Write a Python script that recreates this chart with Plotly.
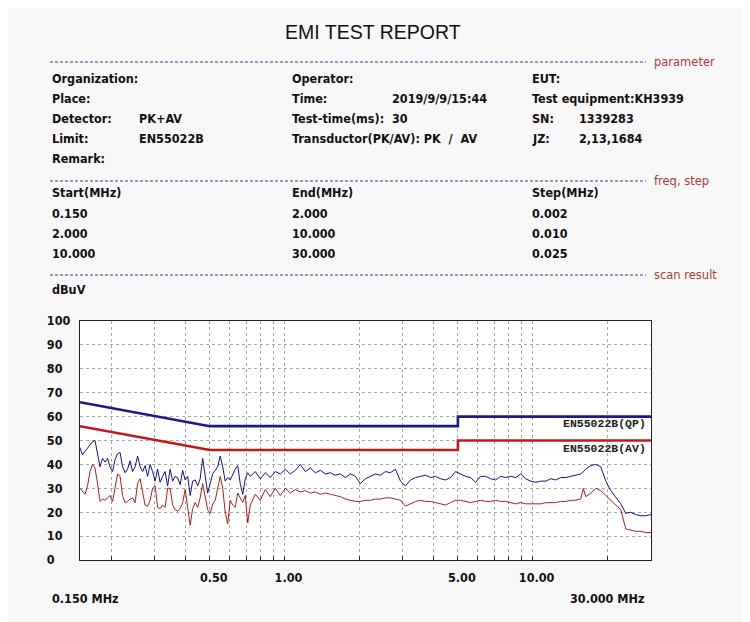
import math
import plotly.graph_objects as go

# ---- scan data ----
FREQ_MHZ = [
    0.15000, 0.15353, 0.15713, 0.16083, 0.16461, 0.16848, 0.17243, 0.17649,
    0.18063, 0.18488, 0.18922, 0.19367, 0.19822, 0.20288, 0.20765, 0.21253,
    0.21752, 0.22264, 0.22787, 0.23323, 0.23870, 0.24431, 0.25006, 0.25594,
    0.26195, 0.26811, 0.27441, 0.28086, 0.28746, 0.29422, 0.30113, 0.30821,
    0.31545, 0.32287, 0.33046, 0.33823, 0.34617, 0.35431, 0.36264, 0.37117,
    0.37988, 0.38881, 0.39795, 0.40731, 0.41688, 0.42668, 0.43670, 0.44697,
    0.45747, 0.46823, 0.47923, 0.49050, 0.50202, 0.51383, 0.52590, 0.53827,
    0.55091, 0.56387, 0.57711, 0.59068, 0.60456, 0.61878, 0.63331, 0.64820,
    0.66343, 0.67903, 0.69498, 0.71132, 0.72804,
    0.76266, 0.79893, 0.83693, 0.87673, 0.91843, 0.96211, 1.00787, 1.05580, 1.10602, 1.15862,
    1.21373, 1.27145, 1.33192, 1.39527, 1.46163, 1.53115, 1.60398, 1.68026, 1.76018, 1.84390,
    1.93159, 2.02346, 2.11970, 2.22052, 2.32613, 2.43676, 2.55266, 2.67407, 2.80125, 2.93448,
    3.07405, 3.22025, 3.37341, 3.53385, 3.70193, 3.87800, 4.06244, 4.25566, 4.45806, 4.67009,
    4.89221, 5.12489, 5.36864, 5.62398, 5.89147, 6.17168, 6.46521, 6.77271, 7.09483, 7.43227,
    7.78576, 8.15606, 8.54397, 8.95034, 9.37603, 9.82197, 10.2891, 10.7785, 11.2911, 11.8281,
    12.3907, 12.9800, 13.5974, 14.2441, 14.9215, 15.6312, 15.9990, 16.3747, 17.1535, 17.9693, 18.8240,
    19.7193, 20.6571, 21.6396, 22.6688, 23.7470, 24.8764, 26.0595, 27.2990, 28.5974, 30.0,
]

QP_SCAN = [
    47, 44, 45.5, 47, 48.5, 49.5, 50, 45,
    39, 42.5, 41, 42.5, 39, 37, 42, 44.5,
    45, 39, 36.5, 38, 41.5, 37, 39, 43.5,
    39, 37, 39.5, 35, 40, 37, 33, 38,
    32.5, 35, 37, 31, 38, 33, 35, 34.5,
    31.5, 37.5, 33.5, 35, 27, 33, 33.5, 31,
    34, 42.5, 34, 28, 32, 36, 37.5, 39,
    43.5, 39, 33, 34.5, 33.5, 36, 38, 39.5,
    32, 27.5, 34, 36.5, 35,
    37, 34, 36.5, 34.5, 37, 36, 38, 36, 37.5, 40,
    37, 38.5, 36.5, 37.5, 36, 36.5, 35.5, 36, 34.5, 36,
    35, 32, 34, 35, 36, 35.5, 37, 36.5, 38, 33,
    31, 33.5, 34.5, 35, 35.5, 34.5, 35, 34, 33.5, 34.5,
    37, 36, 35, 34.5, 32.5, 35, 35, 34, 33.5, 35,
    34.5, 35, 34.5, 36, 34, 33, 32.5, 33, 33, 34,
    33.5, 34.5, 34.5, 35, 35.5, 36, 37, 38, 39.5, 40, 39,
    33, 29, 26.5, 23.5, 19.5, 20, 19, 18.5, 18.5, 19,
]

AV_SCAN = [
    30, 28.5, 27.5, 31, 37, 40, 38.5, 32,
    24.5, 25.5, 25, 26, 27, 24.5, 30, 36,
    35, 27, 24, 24.5, 25.5, 26, 24, 32,
    34, 29, 23, 22.5, 25, 30, 31, 22,
    21.5, 23, 22, 30, 30, 23, 21, 20.5,
    21.5, 24, 29.5, 22, 14.5, 21.5, 24, 22,
    26, 32, 27, 21, 19.5, 23.5, 25, 30,
    35, 30, 20, 15, 25, 23, 22, 28,
    26, 24, 27, 15.5, 23,
    27.5, 25, 29.5, 26.5, 30, 27, 30, 28, 29.5, 28.5,
    29, 28, 28.5, 27.5, 28, 27.5, 27, 26.5, 25.5, 25,
    24.5, 24.5, 25, 25, 25.5, 25.5, 26, 26, 25.5, 25,
    22.5, 23.5, 24.5, 25, 24.5, 24.5, 24, 23.5, 23, 24,
    25, 25, 24.5, 24, 24.5, 25, 24.5, 24.5, 25, 24.5,
    24.5, 24, 23.5, 24, 23.5, 23.5, 23.5, 23.5, 24, 24,
    24, 24.5, 24.5, 25, 25, 25.5, 30, 26.5, 28, 30, 29,
    27, 25, 23, 21, 13, 12.5, 12, 12, 11.5, 11.5,
]

LIMIT_FREQ = [0.15, 0.5, 5, 5, 30]
QP_LIMIT = [66, 56, 56, 60, 60]
AV_LIMIT = [56, 46, 46, 50, 50]

GRID_FREQ = [0.2, 0.3, 0.4, 0.5, 0.6, 0.7, 0.8, 0.9, 1, 2, 3, 4, 5, 6, 7, 8, 9, 10, 20]
FREQ_LABELS = {0.5: "0.50", 1: "1.00", 5: "5.00", 10: "10.00"}
LEVEL_TICKS = [0, 10, 20, 30, 40, 50, 60, 70, 80, 90, 100]

PARAM_ROWS = [
    [(50, "Organization:"), (290, "Operator:"), (530, "EUT:")],
    [(50, "Place:"), (290, "Time:"), (390, "2019/9/9/15:44"), (530, "Test equipment:KH3939")],
    [(50, "Detector:"), (137, "PK+AV"), (290, "Test-time(ms):"), (390, "30"),
     (530, "SN:"), (577, "1339283")],
    [(50, "Limit:"), (137, "EN55022B"), (290, "Transductor(PK/AV): PK  /  AV"),
     (530, "JZ:"), (577, "2,13,1684")],
    [(50, "Remark:")],
]
STEP_ROWS = [
    ["Start(MHz)", "End(MHz)", "Step(MHz)"],
    ["0.150", "2.000", "0.002"],
    ["2.000", "10.000", "0.010"],
    ["10.000", "30.000", "0.025"],
]

BG = "#F7F7F7"
TXT = "#111111"
NAVY = "#1A1A8A"
RED = "#C41818"
TAG = "#B03A3A"
FONT = "DejaVu Sans Condensed"

# the page body adds an 8px offset, so the figure is 8px smaller and
# every page position below is shifted back by that amount
OFF = 8
W, H = 750 - OFF, 622 - OFF
L, R, T, B = 80 - OFF, 651 - OFF, 321 - OFF, 560 - OFF


def px(x):
    return (x - OFF - L) / (R - L)


def py(y):
    return (B - (y - OFF)) / (B - T)


fig = go.Figure()
fig.add_trace(go.Scatter(x=FREQ_MHZ, y=QP_SCAN, mode="lines",
                         line=dict(color="#12128C", width=1)))
fig.add_trace(go.Scatter(x=FREQ_MHZ, y=AV_SCAN, mode="lines",
                         line=dict(color="#B01E1E", width=1)))
fig.add_trace(go.Scatter(x=LIMIT_FREQ, y=QP_LIMIT, mode="lines",
                         line=dict(color=NAVY, width=2.6)))
fig.add_trace(go.Scatter(x=LIMIT_FREQ, y=AV_LIMIT, mode="lines",
                         line=dict(color=RED, width=2.6)))

ann = []


def text(x, y, s, size=12.5, color=TXT, bold=True, anchor="left", family=FONT):
    ann.append(dict(xref="paper", yref="paper", x=px(x), y=py(y), text=s,
                    showarrow=False, xanchor=anchor, yanchor="middle",
                    font=dict(family=family, size=size, color=color,
                              weight="bold" if bold else "normal")))


text(373, 32, "EMI TEST REPORT", size=19.5, bold=False, anchor="center",
     family="Liberation Sans")

for i, row in enumerate(PARAM_ROWS):
    for x, s in row:
        text(x, 78 + 20 * i, s)
for i, row in enumerate(STEP_ROWS):
    for x, s in zip([50, 290, 530], row):
        text(x, 193 + 20 * i, s)
text(50, 289, "dBuV")
text(50, 598, "0.150 MHz")
text(647, 598, "30.000 MHz", anchor="right")

shapes = []
for y, tag in [(62, "parameter"), (181, "freq, step"), (275, "scan result")]:
    shapes.append(dict(type="line", xref="paper", yref="paper",
                       x0=px(50), x1=px(646), y0=py(y), y1=py(y),
                       line=dict(color="#3A3A8A", width=1, dash="3px,2px")))
    text(652, y, tag, size=11.5, color=TAG, bold=False, family="DejaVu Sans")

# limit names on the right of the plot
for y, s in [(57.2, "EN55022B(QP)"), (46.8, "EN55022B(AV)")]:
    ann.append(dict(xref="paper", yref="y", x=1, xshift=-3, y=y, text=s,
                    showarrow=False, xanchor="right", yanchor="middle",
                    font=dict(family="Liberation Mono", size=11.5, color="#222222")))

fig.update_layout(
    width=W, height=H,
    paper_bgcolor=BG, plot_bgcolor="#FFFFFF",
    margin=dict(l=L, r=W - R, t=T, b=H - B, pad=0),
    showlegend=False,
    annotations=ann, shapes=shapes,
    font=dict(family=FONT, size=12.5, color=TXT, weight="bold"),
)
fig.update_xaxes(
    type="log", range=[math.log10(0.15), math.log10(30)],
    tickvals=GRID_FREQ, ticktext=[FREQ_LABELS.get(f, "") for f in GRID_FREQ],
    showgrid=True, gridcolor="#A8A8A8", griddash="3px,3px", gridwidth=1,
    ticks="inside", ticklen=4, tickcolor="#333333",
    showline=True, linecolor="#222222", linewidth=1.3, mirror=True,
    zeroline=False, ticklabelstandoff=6, ticklabelshift=4,
)
fig.update_yaxes(
    range=[0, 100], tickvals=LEVEL_TICKS,
    ticktext=[str(v) + "\u2007" * (3 - len(str(v))) for v in LEVEL_TICKS],
    showgrid=True, gridcolor="#A8A8A8", griddash="3px,3px", gridwidth=1,
    showline=True, linecolor="#222222", linewidth=1.3, mirror=True,
    zeroline=False, ticks="", ticklabelstandoff=6,
)

fig.write_html("out.html")
